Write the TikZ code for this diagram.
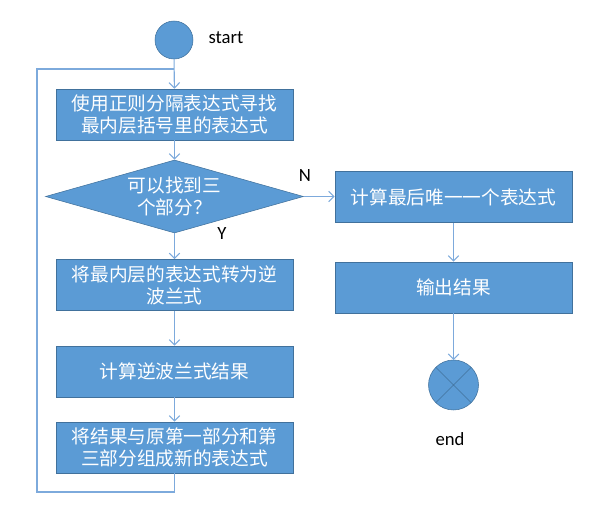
\documentclass[tikz,border=0pt]{standalone}
\usepackage{fontspec}
\setmainfont{Carlito}
\newfontfamily\cjk{Noto Sans CJK SC}
\usetikzlibrary{shapes.geometric,arrows.meta}
\definecolor{boxblue}{RGB}{91,155,213}
\definecolor{boxline}{RGB}{65,113,156}
\definecolor{linkblue}{RGB}{125,170,220}
\tikzstyle{terminal}=[circle,draw=boxline,fill=boxblue,inner sep=0pt,outer sep=0pt]
\tikzstyle{process}=[rectangle,draw=boxline,fill=boxblue,text=white,font=\cjk\fontsize{14}{16.5}\selectfont,align=center,minimum width=177.75pt,minimum height=38.25pt,inner sep=0pt]
\tikzstyle{decision}=[diamond,draw=boxline,fill=boxblue,text=white,font=\cjk\fontsize{14}{16.5}\selectfont,align=center,aspect=3.5,minimum width=193.5pt,minimum height=54.75pt,inner sep=0pt]
\tikzstyle{tag}=[font=\fontsize{14}{16}\selectfont]
\tikzstyle{flow}=[draw=linkblue,thick,-{Straight Barb[length=4pt,width=8pt]}]
\tikzstyle{loop}=[draw=linkblue,thick]

\begin{document}
\begin{tikzpicture}[x=0.75pt,y=-0.75pt]
\useasboundingbox (0,0) rectangle (616,530);
                \path node[terminal,minimum size=28.5pt] (start) at (174,40) {}
                    (226,38) node[tag] (starttag) {start}
                    (174.5,114.5) node[process] (find) {使用正则分隔表达式寻找\\最内层括号里的表达式}
                    (174.5,196.5) node[decision] (check) {可以找到三\\个部分？}
                    (174.5,285) node[process] (rpn) {将最内层的表达式转为逆\\波兰式}
                    (174.5,371.5) node[process] (calc) {计算逆波兰式结果}
                    (174.5,447.5) node[process] (merge) {将结果与原第一部分和第\\三部分组成新的表达式}
                    (453.5,197) node[process] (last) {计算最后唯一一个表达式}
                    (453.5,287.5) node[process] (output) {输出结果}
                    (453.5,385) node[terminal,minimum size=37.5pt] (end) {}
                    (450,439) node[tag] (endtag) {end}
                    (305,176) node[tag] (no) {N}
                    (222,234) node[tag] (yes) {Y}
                    ;
                \draw[boxline] (end.north west) -- (end.south east) (end.north east) -- (end.south west);
                \coordinate (back) at (37,492);
                \coordinate (top) at (37,69);
                \draw[loop] (merge.south) |- (back) -- (top) -- (start.south |- top);
                \draw[flow] (start) -- (find);
                \draw[flow] (find) -- (check);
                \draw[flow] (check) -- (rpn);
                \draw[flow] (rpn) -- (calc);
                \draw[flow] (calc) -- (merge);
                \draw[flow] (check.east) -- (last.west |- check.east);
                \draw[flow] (last) -- (output);
                \draw[flow] (output) -- (end);
            \end{tikzpicture}
\end{document}
